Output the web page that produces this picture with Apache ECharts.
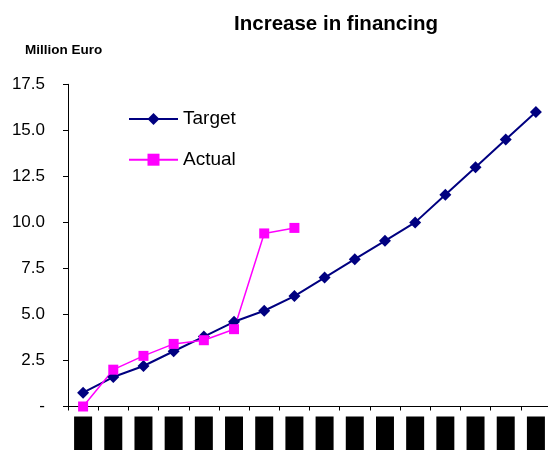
<!DOCTYPE html>
<html><head><meta charset="utf-8">
<script src="https://cdn.jsdelivr.net/npm/echarts@6/dist/echarts.min.js"></script>
<style>html,body{margin:0;padding:0;background:#fff}#c{width:548px;height:450px}</style>
</head><body><div id="c"></div>
<script>
var categories = ['1','2','3','4','5','6','7','8','9','10','11','12','13','14','15','16'];
var targetValues = [0.75, 1.6, 2.2, 3.0, 3.8, 4.6, 5.2, 6.0, 7.0, 8.0, 9.0, 10.0, 11.5, 13.0, 14.5, 16.0];
var actualValues = [0, 2.0, 2.75, 3.4, 3.6, 4.2, 9.4, 9.7];
var seriesNames = ['Target', 'Actual'];
var titleText = 'Increase in financing';
var unitText = 'Million Euro';

var FF = 'Liberation Sans, Arial, sans-serif';
var chart = echarts.init(document.getElementById('c'), null, {renderer: 'canvas'});
chart.setOption({
  animation: false,
  backgroundColor: '#fff',
  title: [
    {text: titleText, left: 331, textAlign: 'center', top: 9,
     textStyle: {fontFamily: FF, fontSize: 20.5, fontWeight: 'bold', color: '#000'}},
    {text: unitText, left: 20, top: 38,
     textStyle: {fontFamily: FF, fontSize: 13.5, fontWeight: 'bold', color: '#000'}}
  ],
  legend: {
    data: seriesNames, orient: 'vertical', left: 123, top: 104,
    itemWidth: 49, itemHeight: 15, itemGap: 20.7,
    textStyle: {fontFamily: FF, fontSize: 19, lineHeight: 20, color: '#000'}
  },
  grid: {left: 68, right: -3, top: 84.3, bottom: 43.5, containLabel: false, outerBoundsMode: 'none'},
  xAxis: {
    type: 'category', data: categories, boundaryGap: true,
    axisLine: {lineStyle: {color: '#000', width: 1}},
    axisTick: {show: true, length: 4, alignWithLabel: false, lineStyle: {color: '#000'}},
    axisLabel: {
      margin: 10, interval: 0,
      formatter: function (v) { return '{b|' + v + '}'; },
      rich: {b: {backgroundColor: '#000', color: '#000', width: 18, height: 40, fontSize: 10, align: 'center'}}
    },
    splitLine: {show: false}
  },
  yAxis: {
    type: 'value', min: 0, max: 17.5, interval: 2.5,
    axisLine: {show: true, lineStyle: {color: '#000', width: 1}},
    axisTick: {show: true, length: 5, lineStyle: {color: '#000'}},
    axisLabel: {
      margin: 23, fontFamily: FF, fontSize: 17, color: '#000',
      formatter: function (v) { return v === 0 ? '-' : v.toFixed(1); }
    },
    splitLine: {show: false}
  },
  series: [
    {name: seriesNames[0], type: 'line', data: targetValues,
     symbol: 'diamond', symbolSize: 12,
     lineStyle: {color: '#000080', width: 2},
     itemStyle: {color: '#000080'}},
    {name: seriesNames[1], type: 'line', data: actualValues,
     symbol: 'rect', symbolSize: 10,
     lineStyle: {color: '#FF00FF', width: 1.5},
     itemStyle: {color: '#FF00FF'}}
  ]
});
</script></body></html>
